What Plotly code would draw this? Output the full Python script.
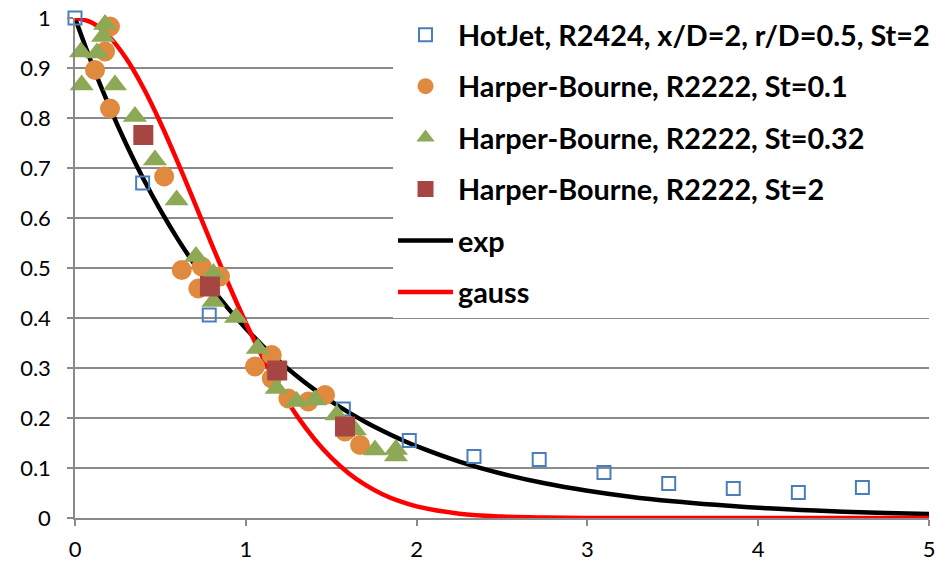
import plotly.graph_objects as go

# ---- data ----
hotjet_x = [0.0, 0.396, 0.786, 1.571, 1.957, 2.336, 2.718, 3.097, 3.476, 3.854, 4.235, 4.61]
hotjet_y = [1.0, 0.67, 0.406, 0.218, 0.155, 0.123, 0.117, 0.091, 0.069, 0.059, 0.051, 0.061]

hb01_x = [0.117, 0.176, 0.205, 0.205, 0.522, 0.625, 0.742, 0.722, 0.849,
          1.054, 1.152, 1.152, 1.249, 1.366, 1.464, 1.581, 1.669]
hb01_y = [0.896, 0.933, 0.983, 0.819, 0.683, 0.496, 0.503, 0.459, 0.483,
          0.303, 0.326, 0.279, 0.239, 0.233, 0.246, 0.173, 0.146]

hb032_x = [0.035, 0.129, 0.176, 0.164, 0.039, 0.234, 0.351, 0.468, 0.595, 0.708, 0.81,
           0.81, 0.943, 1.07, 1.181, 1.298, 1.405, 1.532, 1.639, 1.756, 1.879, 1.879]
hb032_y = [0.932, 0.930, 0.987, 0.963, 0.866, 0.866, 0.803, 0.716, 0.636, 0.523, 0.489,
           0.433, 0.401, 0.339, 0.259, 0.233, 0.236, 0.206, 0.176, 0.136, 0.137, 0.124]

hb2_x = [0.4, 0.79, 1.184, 1.581]
hb2_y = [0.766, 0.463, 0.295, 0.183]

curve_x = [0.0, 0.1, 0.2, 0.3, 0.4, 0.5, 0.6, 0.7, 0.8, 0.9, 1.0, 1.1, 1.2, 1.3, 1.4,
           1.5, 1.6, 1.7, 1.8, 1.9, 2.0, 2.25, 2.5, 2.75, 3.0, 3.25, 3.5, 3.75, 4.0,
           4.25, 4.5, 4.75, 5.0]
exp_y = [1.0, 0.9076, 0.8237, 0.7475, 0.6784, 0.6157, 0.5588, 0.5071, 0.4602, 0.4177,
         0.3791, 0.3440, 0.3122, 0.2834, 0.2572, 0.2334, 0.2118, 0.1922, 0.1745, 0.1583,
         0.1437, 0.1128, 0.0885, 0.0694, 0.0545, 0.0427, 0.0335, 0.0263, 0.0206,
         0.0162, 0.0127, 0.0100, 0.0078]
gauss_y = [1.0, 0.9906, 0.9631, 0.9189, 0.8604, 0.7906, 0.7129, 0.6309, 0.5479, 0.4670,
           0.3906, 0.3207, 0.2583, 0.2042, 0.1585, 0.1206, 0.0901, 0.0661, 0.0476, 0.0336,
           0.0233, 0.0086, 0.0028, 0.0008, 0.0002, 0.0, 0.0, 0.0, 0.0,
           0.0, 0.0, 0.0, 0.0]

x_ticks = [0, 1, 2, 3, 4, 5]
y_ticks = [0, 0.1, 0.2, 0.3, 0.4, 0.5, 0.6, 0.7, 0.8, 0.9, 1]

names = ["HotJet, R2424, x/D=2, r/D=0.5, St=2",
         "Harper-Bourne, R2222, St=0.1",
         "Harper-Bourne, R2222, St=0.32",
         "Harper-Bourne, R2222, St=2",
         "exp", "gauss"]

fig = go.Figure()

# lines first (drawn below the markers), ranked last in the legend
fig.add_trace(go.Scatter(x=curve_x, y=exp_y, mode="lines", name=names[4],
                         line=dict(color="black", width=4.5, shape="spline"),
                         legendgroup="g5", legendrank=5, cliponaxis=False))
fig.add_trace(go.Scatter(x=curve_x, y=gauss_y, mode="lines", name=names[5],
                         line=dict(color="#FF0000", width=4.5, shape="spline"),
                         legendgroup="g6", legendrank=6, cliponaxis=False))

fig.add_trace(go.Scatter(x=hotjet_x, y=hotjet_y, mode="markers", name=names[0],
                         marker=dict(symbol="square-open", size=13, color="#4A7EBB",
                                     line=dict(width=2, color="#4A7EBB")),
                         legendgroup="g1", legendrank=1, cliponaxis=False))
fig.add_trace(go.Scatter(x=hb01_x, y=hb01_y, mode="markers", name=names[1],
                         marker=dict(symbol="circle", size=20, color="#DF8A3F",
                                     line=dict(width=0)),
                         legendgroup="g2", legendrank=2, cliponaxis=False))
fig.add_trace(go.Scatter(x=hb032_x, y=hb032_y, mode="markers", name=names[2],
                         marker=dict(symbol="triangle-up", size=21, color="#8DA955",
                                     line=dict(width=0)),
                         legendgroup="g3", legendrank=3, cliponaxis=False))
fig.add_trace(go.Scatter(x=hb2_x, y=hb2_y, mode="markers", name=names[3],
                         marker=dict(symbol="square", size=20, color="#A64642",
                                     line=dict(width=0)),
                         legendgroup="g4", legendrank=4, cliponaxis=False))

grid = "#8A8A8A"
fig.update_layout(
    width=939, height=563,
    margin=dict(l=75, r=10, t=18, b=45, autoexpand=False),
    paper_bgcolor="white", plot_bgcolor="white",
    font=dict(family="Lato", size=22, color="black"),
    showlegend=True,
    legend=dict(x=0.3724, y=1.017, xanchor="left", yanchor="top",
                bgcolor="white", borderwidth=0, maxheight=400,
                font=dict(family="Lato", size=28.8, color="black", weight="bold"),
                itemwidth=55, traceorder="grouped", tracegroupgap=11),
    xaxis=dict(range=[0, 5], tickvals=x_ticks, ticktext=[str(v) for v in x_ticks],
               showgrid=False, zeroline=False, showline=True, linecolor=grid,
               linewidth=1.5, ticks="outside", ticklen=6, tickcolor=grid,
               tickwidth=1.5, ticklabelstandoff=5,
               tickfont=dict(family="Lato", size=22)),
    yaxis=dict(range=[0, 1], tickvals=y_ticks, ticktext=[f"{v:g}" for v in y_ticks],
               showgrid=True, gridcolor=grid, gridwidth=1.5, zeroline=False,
               showline=True, linecolor=grid, linewidth=1.5, ticks="outside",
               ticklen=6, tickcolor=grid, tickwidth=1.5, ticklabelstandoff=12,
               tickfont=dict(family="Lato", size=22)),
)

fig.write_html("out.html")
